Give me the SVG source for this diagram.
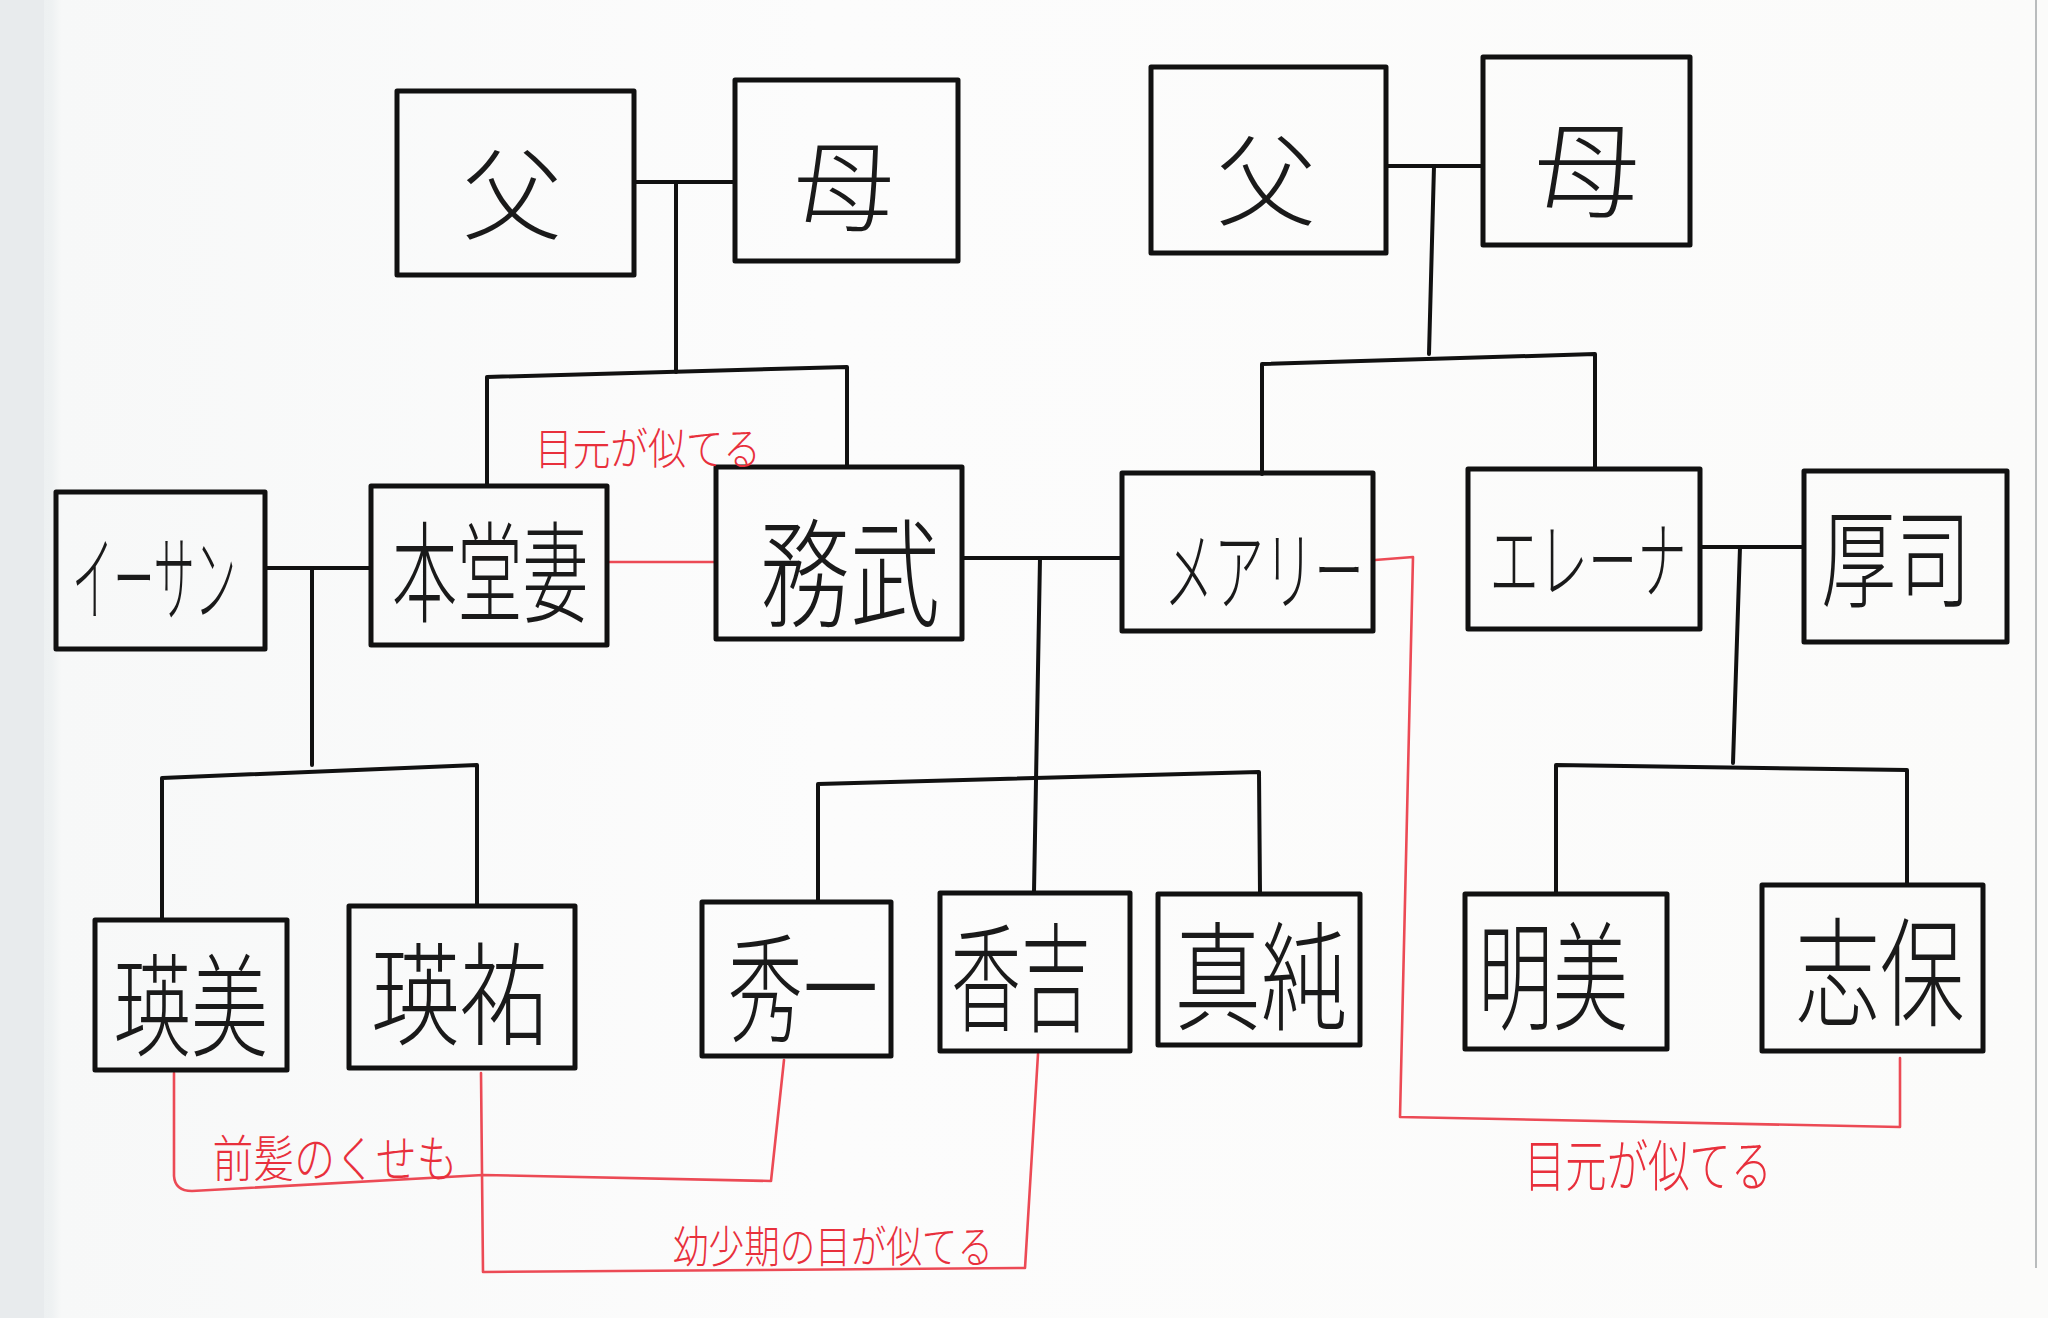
<svg xmlns="http://www.w3.org/2000/svg" width="2048" height="1318" viewBox="0 0 2048 1318">
<defs>
<linearGradient id="bg" x1="0" y1="0" x2="1" y2="0">
<stop offset="0" stop-color="#e9ecee"/>
<stop offset="0.025" stop-color="#eef1f2"/>
<stop offset="0.03" stop-color="#f7f8f8"/>
<stop offset="0.4" stop-color="#fcfcfc"/>
<stop offset="1" stop-color="#fbfbfa"/>
</linearGradient>
<style>
.box{fill:none;stroke:#111;stroke-width:5;stroke-linejoin:round}
.ln{fill:none;stroke:#111;stroke-width:4;stroke-linejoin:round;stroke-linecap:round}
.rd{fill:none;stroke:#ec4a55;stroke-width:2.6;stroke-linejoin:round;stroke-linecap:round}
.lb{font-family:"Noto Sans CJK JP","Noto Sans CJK SC",sans-serif;fill:#1a1a1a;text-anchor:middle;dominant-baseline:central;font-weight:300}
.rt{font-family:"Noto Sans CJK JP","Noto Sans CJK SC",sans-serif;fill:#e8303c;text-anchor:middle;dominant-baseline:central;font-weight:300}
</style>
</defs>
<rect x="0" y="0" width="2048" height="1318" fill="url(#bg)"/>
<rect x="0" y="0" width="44" height="1318" fill="#e8ebed"/>
<line x1="2036" y1="0" x2="2036" y2="1268" stroke="#b9bcbd" stroke-width="2"/>

<g id="connectors">
<line class="ln" x1="634" y1="182" x2="735" y2="182"/>
<line class="ln" x1="676" y1="182" x2="676" y2="372"/>
<polyline class="ln" points="487,484 487,377 847,367 847,467"/>
<line class="ln" x1="1386" y1="166" x2="1483" y2="166"/>
<line class="ln" x1="1434" y1="166" x2="1429" y2="354"/>
<polyline class="ln" points="1262,474 1262,364 1595,354 1595,467"/>
<line class="ln" x1="265" y1="568" x2="371" y2="568"/>
<line class="ln" x1="312" y1="568" x2="312" y2="765"/>
<polyline class="ln" points="162,920 162,778 477,765 477,906"/>
<line class="ln" x1="962" y1="558" x2="1122" y2="558"/>
<line class="ln" x1="1040" y1="558" x2="1034" y2="892"/>
<polyline class="ln" points="818,902 818,784 1259,772 1260,894"/>
<line class="ln" x1="1700" y1="547" x2="1804" y2="547"/>
<line class="ln" x1="1740" y1="547" x2="1733" y2="763"/>
<polyline class="ln" points="1556,894 1556,765 1907,770 1907,885"/>
<line class="rd" x1="609" y1="562" x2="714" y2="562"/>
<path class="rd" d="M174,1073 L174,1176 Q175,1191 192,1191 L483,1175 L771,1181 L784,1060"/>
<polyline class="rd" points="481,1073 483,1272 1025,1268 1038,1054"/>
<polyline class="rd" points="1375,560 1413,557 1400,1117 1900,1127 1900,1058"/>
</g>

<g id="father-l"><rect class="box" x="397" y="91" width="237" height="184"/><text class="lb" x="512" y="188" font-size="100">父</text></g>
<g id="mother-l"><rect class="box" x="735" y="80" width="223" height="181"/><text class="lb" x="844" y="180" font-size="100">母</text></g>
<g id="father-r"><rect class="box" x="1151" y="67" width="235" height="186"/><text class="lb" x="1266" y="174" font-size="100">父</text></g>
<g id="mother-r"><rect class="box" x="1483" y="57" width="207" height="188"/><text class="lb" x="1587" y="163" font-size="105">母</text></g>

<g id="ethan"><rect class="box" x="56" y="492" width="209" height="157"/><text class="lb" transform="translate(154,572) scale(0.434,1)" font-size="95">イーサン</text></g>
<g id="hondou"><rect class="box" x="371" y="486" width="236" height="159"/><text class="lb" transform="translate(490,566) scale(0.594,1)" font-size="110">本堂妻</text></g>
<g id="tsutomu"><rect class="box" x="716" y="467" width="246" height="172"/><text class="lb" transform="translate(850,566) scale(0.763,1)" font-size="118">務武</text></g>
<g id="mary"><rect class="box" x="1122" y="473" width="251" height="158"/><text class="lb" transform="translate(1264,565) scale(0.568,1)" font-size="88">メアリー</text></g>
<g id="elena"><rect class="box" x="1468" y="469" width="232" height="160"/><text class="lb" transform="translate(1588,555) scale(0.579,1)" font-size="85">エレーナ</text></g>
<g id="atsushi"><rect class="box" x="1804" y="471" width="203" height="171"/><text class="lb" transform="translate(1896,552) scale(0.694,1)" font-size="108">厚司</text></g>

<g id="eimi"><rect class="box" x="95" y="920" width="192" height="150"/><text class="lb" transform="translate(191,1000) scale(0.688,1)" font-size="112">瑛美</text></g>
<g id="eisuke"><rect class="box" x="349" y="906" width="226" height="162"/><text class="lb" transform="translate(460,988) scale(0.79,1)" font-size="112">瑛祐</text></g>
<g id="shuichi"><rect class="box" x="702" y="902" width="189" height="154"/><text class="lb" transform="translate(803,981) scale(0.636,1)" font-size="118">秀一</text></g>
<g id="shukichi"><rect class="box" x="940" y="893" width="190" height="158"/><text class="lb" transform="translate(1021,970) scale(0.593,1)" font-size="118">香吉</text></g>
<g id="masumi"><rect class="box" x="1158" y="894" width="202" height="151"/><text class="lb" transform="translate(1261,970) scale(0.733,1)" font-size="118">真純</text></g>
<g id="akemi"><rect class="box" x="1465" y="894" width="202" height="155"/><text class="lb" transform="translate(1553,969) scale(0.636,1)" font-size="118">明美</text></g>
<g id="shiho"><rect class="box" x="1762" y="885" width="221" height="166"/><text class="lb" transform="translate(1880,966) scale(0.716,1)" font-size="118">志保</text></g>

<g id="red-labels">
<text class="rt" transform="translate(648,446) scale(0.856,1)" font-size="44">目元が似てる</text>
<text class="rt" transform="translate(335,1155) scale(0.817,1)" font-size="50">前髪のくせも</text>
<text class="rt" transform="translate(833,1244) scale(0.808,1)" font-size="44">幼少期の目が似てる</text>
<text class="rt" transform="translate(1648,1162) scale(0.738,1)" font-size="56">目元が似てる</text>
</g>
</svg>
